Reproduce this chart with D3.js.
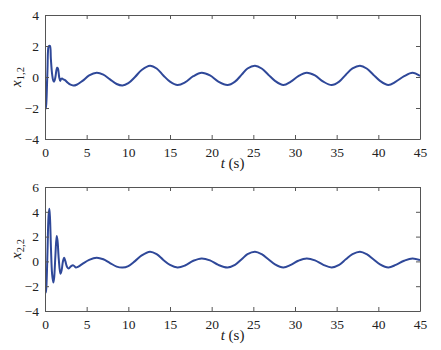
<!DOCTYPE html>
<html><head><meta charset="utf-8">
<script src="https://cdn.jsdelivr.net/npm/d3@7"></script>
<style>body{margin:0;background:#fff}svg{display:block}svg text{font-family:"Liberation Serif","Times New Roman",serif}</style>
</head><body>
<script>
// ---- data ----
const xTicks = [0,5,10,15,20,25,30,35,40,45];
const yTicksTop = [-4,-2,0,2,4];
const yTicksBottom = [-4,-2,0,2,4,6];

const tTop = [0,0.05,0.12,0.2,0.3,0.42,0.5,0.6,0.7,0.85,1.0,1.1,1.25,1.45,1.55,1.7,1.82,1.95,2.05,2.2,2.4,2.7,3.0,3.4,3.8,4.5,5.3,6.2,7.0,7.8,8.6,9.3,10.0,10.8,11.6,12.6,13.4,14.2,15.0,15.9,16.8,17.8,18.8,19.8,20.8,21.9,22.8,23.6,24.3,25.2,26.0,26.8,27.6,28.6,29.5,30.4,31.4,32.4,33.4,34.4,35.3,36.1,36.9,37.8,38.6,39.4,40.2,41.2,42.1,43.1,44.1,45];
const x12 = [0,-1.2,-2.05,-1.2,0.5,1.95,2.0,2.0,1.2,0.2,-0.25,-0.3,0.0,0.6,0.55,0.0,-0.25,-0.12,-0.1,-0.15,-0.2,-0.35,-0.48,-0.55,-0.5,-0.25,0.1,0.27,0.15,-0.15,-0.45,-0.55,-0.4,0.0,0.45,0.73,0.55,0.1,-0.3,-0.52,-0.35,0.05,0.27,0.1,-0.3,-0.52,-0.3,0.15,0.55,0.73,0.55,0.15,-0.25,-0.52,-0.3,0.05,0.27,0.1,-0.3,-0.52,-0.3,0.15,0.55,0.73,0.55,0.15,-0.25,-0.52,-0.3,0.05,0.27,0.07];

const tBot = [0,0.06,0.12,0.2,0.3,0.42,0.52,0.6,0.72,0.85,1.0,1.1,1.25,1.4,1.5,1.65,1.85,2.0,2.15,2.3,2.45,2.65,2.85,3.1,3.4,3.7,4.0,4.5,5.3,6.2,7.0,7.8,8.6,9.3,10.0,10.8,11.6,12.6,13.4,14.2,15.0,15.9,16.8,17.8,18.8,19.8,20.8,21.9,22.8,23.6,24.3,25.2,26.0,26.8,27.6,28.6,29.5,30.4,31.4,32.4,33.4,34.4,35.3,36.1,36.9,37.8,38.6,39.4,40.2,41.2,42.1,43.1,44.1,45];
const x22 = [-1.0,-2.3,-2.5,-1.5,0.8,3.6,4.25,3.5,1.0,-1.0,-1.7,-1.3,0.5,2.05,1.7,0.2,-1.0,-0.7,0.0,0.3,0.0,-0.45,-0.58,-0.4,-0.32,-0.5,-0.42,-0.2,0.12,0.3,0.17,-0.13,-0.42,-0.5,-0.38,0.02,0.48,0.78,0.58,0.12,-0.28,-0.49,-0.33,0.05,0.24,0.08,-0.28,-0.49,-0.28,0.17,0.58,0.78,0.58,0.17,-0.24,-0.49,-0.28,0.05,0.24,0.08,-0.28,-0.49,-0.28,0.17,0.58,0.78,0.58,0.17,-0.24,-0.49,-0.28,0.05,0.24,0.1];

// ---- drawing ----
const W = 441, H = 350;
const svg = d3.select("body").append("svg").attr("width", W).attr("height", H);
const font = "Liberation Serif";
const axisColor = "#555";
const lineColor = "#2f4899";

function panel(top, bottom, yDom, yTicks, ts, vs, sub, idx) {
  const x = d3.scaleLinear().domain([0,45]).range([45,420]);
  const y = d3.scaleLinear().domain(yDom).range([bottom, top]);
  const g = svg.append("g");
  svg.append("clipPath").attr("id","c"+idx).append("rect")
    .attr("x",45).attr("y",top).attr("width",375).attr("height",bottom-top);
  const line = d3.line().x((d,i)=>x(ts[i])).y(d=>y(d)).curve(d3.curveCatmullRom.alpha(0.5));
  g.append("path").datum(vs).attr("d", line).attr("fill","none")
    .attr("stroke", lineColor).attr("stroke-width", 2).attr("clip-path","url(#c"+idx+")");
  const tl = 4;
  const ax = d3.axisBottom(x).tickValues(xTicks).tickSizeInner(-tl).tickSizeOuter(0).tickPadding(8);
  const axT = d3.axisTop(x).tickValues(xTicks).tickSizeInner(-tl).tickSizeOuter(0).tickFormat("");
  const ay = d3.axisLeft(y).tickValues(yTicks).tickSizeInner(-tl).tickSizeOuter(0).tickPadding(6)
    .tickFormat(d => d < 0 ? "\u2212" + Math.abs(d) : d);
  const ayR = d3.axisRight(y).tickValues(yTicks).tickSizeInner(-tl).tickSizeOuter(0).tickFormat("");
  const gs = [
    g.append("g").attr("transform",`translate(0,${bottom})`).call(ax),
    g.append("g").attr("transform",`translate(0,${top})`).call(axT),
    g.append("g").attr("transform",`translate(45,0)`).call(ay),
    g.append("g").attr("transform",`translate(420,0)`).call(ayR)
  ];
  gs.forEach(a => {
    a.attr("font-family", null);
    a.select(".domain").attr("stroke", axisColor).attr("stroke-width",1);
    a.selectAll(".tick line").attr("stroke", axisColor);
    a.selectAll("text").style("font-family", font).attr("font-size", 13.5).attr("fill","#222");
  });
  const xl = g.append("text").attr("x", 232.5).attr("y", bottom + 29)
    .attr("text-anchor","middle").style("font-family", font).attr("font-size", 15).attr("fill","#222");
  xl.append("tspan").attr("font-style","italic").text("t");
  xl.append("tspan").text(" (s)");
  const yl = g.append("text").attr("transform",`translate(21,${(top+bottom)/2}) rotate(-90)`)
    .attr("text-anchor","middle").style("font-family", font).attr("font-size", 15).attr("fill","#222");
  yl.append("tspan").attr("font-style","italic").text("x");
  yl.append("tspan").attr("font-size", 10.5).attr("dy", 3).text(sub);
}

panel(15, 139, [-4,4], yTicksTop, tTop, x12, "1,2", 1);
panel(187, 311, [-4,6], yTicksBottom, tBot, x22, "2,2", 2);
</script>
</body></html>
